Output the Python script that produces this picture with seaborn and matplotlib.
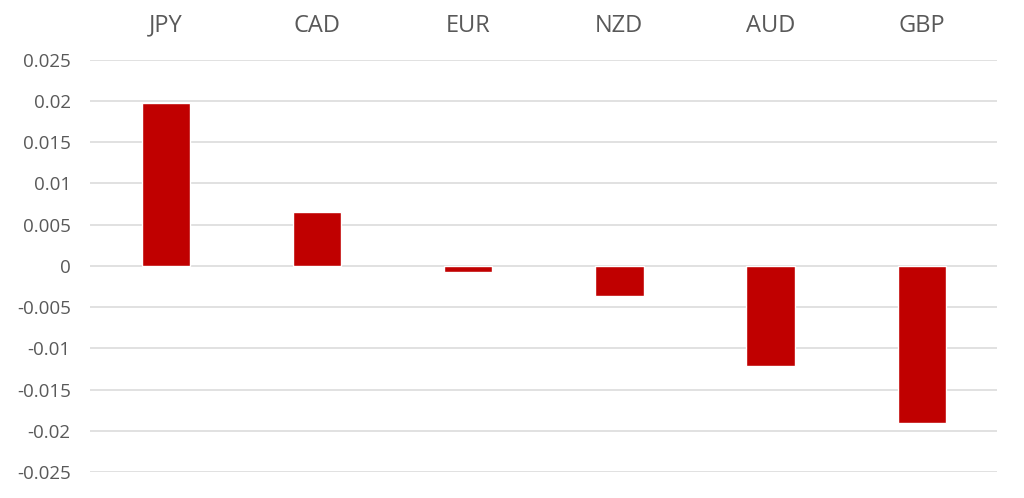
import matplotlib
matplotlib.use("Agg")
import matplotlib.pyplot as plt
import seaborn as sns
import pandas as pd
import numpy as np

sns.set_theme(style="white")
plt.rcParams["font.family"] = ["Open Sans", "DejaVu Sans"]

currencies = ["JPY", "CAD", "EUR", "NZD", "AUD", "GBP"]
changes = [0.0198, 0.0065, -0.0007, -0.0037, -0.0121, -0.0191]
yticks = [0.025, 0.02, 0.015, 0.01, 0.005, 0, -0.005, -0.01, -0.015, -0.02, -0.025]
ytick_labels = ["0.025", "0.02", "0.015", "0.01", "0.005", "0",
                "-0.005", "-0.01", "-0.015", "-0.02", "-0.025"]

df = pd.DataFrame({"currency": currencies, "change": changes})

fig = plt.figure(figsize=(10.24, 4.98), dpi=100)
ax = fig.add_axes([0.088, 0.052, 0.886, 0.828])

sns.barplot(data=df, x="currency", y="change", color="#C00000",
            saturation=1, width=0.32, ax=ax, zorder=3)

ax.set_ylim(-0.025, 0.025)
ax.set_xlim(-0.5, 5.5)
ax.set_yticks(yticks)
ax.set_yticklabels(ytick_labels)
ax.yaxis.grid(True, color="#dcdcdc", linewidth=1.2, zorder=0)
ax.set_axisbelow(True)

ax.xaxis.tick_top()
ax.tick_params(axis="x", length=0, pad=16, labelsize=17, labelcolor="#595959")
ax.tick_params(axis="y", length=0, pad=14, labelsize=13.5, labelcolor="#595959")
ax.set_xlabel("")
ax.set_ylabel("")
for s in ax.spines.values():
    s.set_visible(False)

fig.savefig("out.png", dpi=100)
